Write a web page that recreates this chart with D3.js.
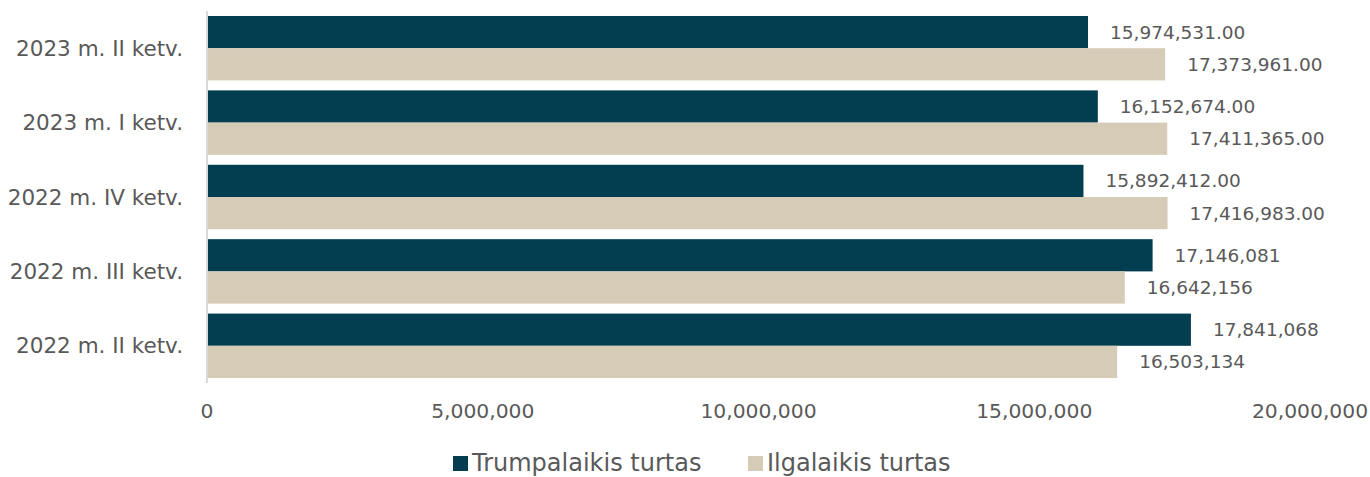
<!DOCTYPE html>
<html>
<head>
<meta charset="utf-8">
<script src="https://cdn.jsdelivr.net/npm/d3@7"></script>
<style>
  body { margin: 0; background: #fff; }
  text { font-family: "DejaVu Sans", sans-serif; fill: #595959; }
</style>
</head>
<body>
<svg id="chart"></svg>
<script>
// Data (top to bottom as shown)
const categories = ['2023 m. II ketv.', '2023 m. I ketv.', '2022 m. IV ketv.', '2022 m. III ketv.', '2022 m. II ketv.'];
const shortTerm = [15974531, 16152674, 15892412, 17146081, 17841068];
const longTerm = [17373961, 17411365, 17416983, 16642156, 16503134];
const withDecimals = [true, true, true, false, false];
const seriesNames = ['Trumpalaikis turtas', 'Ilgalaikis turtas'];
const seriesColors = ['#023e4f', '#d6cbb6'];
const xTicks = [0, 5000000, 10000000, 15000000, 20000000];

const width = 1370, height = 477;

const svg = d3.select('#chart')
  .attr('width', width)
  .attr('height', height);

const x = d3.scaleLinear().domain([0, 20000000]).range([207, 1310]);
const y = d3.scaleBand().domain(categories).range([11, 383])
  .paddingInner(0.134).paddingOuter(0.067);
const sub = d3.scaleBand().domain([0, 1]).range([0, y.bandwidth()]);

const rows = categories.map((c, i) => ({ c, i, vals: [shortTerm[i], longTerm[i]] }));

const fmt2 = d3.format(',.2f');
const fmt0 = d3.format(',');

// Bars
const g = svg.append('g')
  .selectAll('g')
  .data(rows)
  .join('g')
  .attr('transform', d => `translate(0,${y(d.c)})`);

g.selectAll('rect')
  .data(d => d.vals.map((v, k) => ({ v, k, i: d.i })))
  .join('rect')
  .attr('x', x(0))
  .attr('y', d => sub(d.k))
  .attr('width', d => x(d.v) - x(0))
  .attr('height', sub.bandwidth())
  .attr('fill', d => seriesColors[d.k]);

// Value labels
g.selectAll('text.val')
  .data(d => d.vals.map((v, k) => ({ v, k, i: d.i })))
  .join('text')
  .attr('class', 'val')
  .attr('x', d => x(d.v) + 22)
  .attr('y', d => sub(d.k) + sub.bandwidth() / 2)
  .attr('dy', '0.35em')
  .style('font-size', '18.5px')
  .text(d => withDecimals[d.i] ? fmt2(d.v) : fmt0(d.v));

// Category axis line
svg.append('line')
  .attr('x1', x(0)).attr('x2', x(0))
  .attr('y1', 11).attr('y2', 383)
  .attr('stroke', '#d9d9d9')
  .attr('stroke-width', 2);

// Category labels
svg.append('g')
  .selectAll('text')
  .data(categories)
  .join('text')
  .attr('x', 183)
  .attr('y', d => y(d) + y.bandwidth() / 2)
  .attr('dy', '0.35em')
  .attr('text-anchor', 'end')
  .style('font-size', '21.5px')
  .text(d => d);

// X tick labels
svg.append('g')
  .selectAll('text')
  .data(xTicks)
  .join('text')
  .attr('x', d => x(d))
  .attr('y', 411)
  .attr('dy', '0.35em')
  .attr('text-anchor', 'middle')
  .style('font-size', '20.3px')
  .text(d => fmt0(d));

// Legend
const legendX = [453, 748];
const lg = svg.append('g')
  .selectAll('g')
  .data(seriesNames)
  .join('g')
  .attr('transform', (d, i) => `translate(${legendX[i]},463)`);

lg.append('rect')
  .attr('x', 0).attr('y', -7)
  .attr('width', 15).attr('height', 15)
  .attr('fill', (d, i) => seriesColors[i]);

lg.append('text')
  .attr('x', 19)
  .attr('dy', '0.35em')
  .style('font-size', '24px')
  .text(d => d);
</script>
</body>
</html>
